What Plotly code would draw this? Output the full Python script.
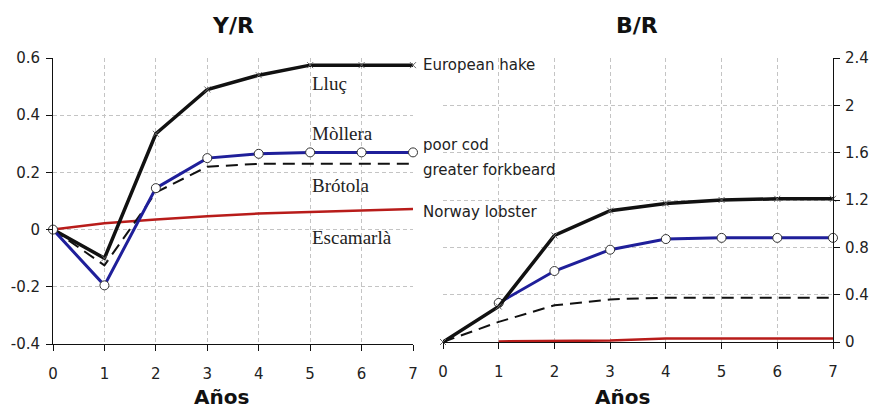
import plotly.graph_objects as go

# --- data ---
years = [0, 1, 2, 3, 4, 5, 6, 7]

# Y/R (yield per recruit)
yr_lluc = [0, -0.10, 0.335, 0.49, 0.54, 0.575, 0.575, 0.575]
yr_mollera = [0, -0.195, 0.145, 0.25, 0.265, 0.27, 0.27, 0.27]
yr_brotola = [0, -0.125, 0.13, 0.22, 0.23, 0.23, 0.23, 0.23]
yr_escamarla = [0, 0.022, 0.035, 0.047, 0.056, 0.062, 0.067, 0.072]

# B/R (biomass per recruit)
br_lluc = [0, 0.30, 0.90, 1.11, 1.17, 1.20, 1.21, 1.21]
br_mollera = [None, 0.33, 0.60, 0.78, 0.87, 0.88, 0.88, 0.88]
br_brotola = [0, 0.17, 0.31, 0.36, 0.375, 0.375, 0.375, 0.375]
br_escamarla = [None, 0.005, 0.01, 0.012, 0.03, 0.03, 0.03, 0.03]

yr_ticks = [-0.4, -0.2, 0, 0.2, 0.4, 0.6]
yr_ticktext = ["-0.4", "-0.2", "0", "0.2", "0.4", "0.6"]
br_ticks = [0, 0.4, 0.8, 1.2, 1.6, 2, 2.4]
br_ticktext = ["0", "0.4", "0.8", "1.2", "1.6", "2", "2.4"]

# species labels (Catalan inside the left plot, English between plots)
cat_names = ["Lluç", "Mòllera", "Brótola", "Escamarlà"]
cat_label_y = [0.51, 0.337, 0.154, -0.028]
eng_names = ["European hake", "poor cod", "greater forkbeard", "Norway lobster"]
eng_label_y = [0.575, 0.295, 0.207, 0.063]

W, H = 871, 409
SANS = "DejaVu Sans"
SERIF = "Liberation Serif"
BLACK = "#111111"
BLUE = "#1f1f9a"
RED = "#b81c1a"
GRID = "#c4c4c4"

fig = go.Figure()


def add_series(x, y, xa, ya, kind):
    if kind == "lluc":
        fig.add_trace(go.Scatter(
            x=x, y=y, xaxis=xa, yaxis=ya, mode="lines+markers",
            line={"color": BLACK, "width": 3.5},
            marker={"symbol": "x-thin", "size": 6, "line": {"color": "#666666", "width": 1}},
            cliponaxis=False,
        ))
    elif kind == "mollera":
        fig.add_trace(go.Scatter(
            x=x, y=y, xaxis=xa, yaxis=ya, mode="lines+markers",
            line={"color": BLUE, "width": 3},
            marker={"symbol": "circle", "size": 9, "color": "white",
                    "line": {"color": "#333333", "width": 1}},
            cliponaxis=False,
        ))
    elif kind == "brotola":
        fig.add_trace(go.Scatter(
            x=x, y=y, xaxis=xa, yaxis=ya, mode="lines",
            line={"color": BLACK, "width": 2, "dash": "12px,7px"},
        ))
    else:
        fig.add_trace(go.Scatter(
            x=x, y=y, xaxis=xa, yaxis=ya, mode="lines",
            line={"color": RED, "width": 2.5},
        ))


# left: Y/R
add_series(years, yr_escamarla, "x", "y", "escamarla")
add_series(years, yr_brotola, "x", "y", "brotola")
add_series(years, yr_lluc, "x", "y", "lluc")
add_series(years, yr_mollera, "x", "y", "mollera")

# right: B/R
add_series(years, br_escamarla, "x2", "y2", "escamarla")
add_series(years, br_brotola, "x2", "y2", "brotola")
add_series(years, br_mollera, "x2", "y2", "mollera")
add_series(years, br_lluc, "x2", "y2", "lluc")

tickfont = {"family": SANS, "size": 15, "color": "#222222"}
axis_common = dict(
    showgrid=True, gridcolor=GRID, griddash="4px,3px", gridwidth=1,
    zeroline=False, showline=True, linecolor=BLACK, linewidth=1,
    ticks="outside", ticklen=6, tickcolor=BLACK, tickfont=tickfont,
    automargin=False,
)

# pixel geometry of the two plot areas
lx0, lx1 = 53, 413
rx0, rx1 = 443, 833
ly0, ly1 = 344, 58
ry0, ry1 = 342, 58

fig.update_layout(
    width=W, height=H,
    margin={"l": 0, "r": 0, "t": 0, "b": 0, "autoexpand": False},
    paper_bgcolor="white", plot_bgcolor="white",
    showlegend=False,
    xaxis=dict(axis_common, domain=[lx0 / W, lx1 / W], range=[0, 7],
               tickvals=years, anchor="y", ticklabelstandoff=10),
    yaxis=dict(axis_common, domain=[(H - ly0) / H, (H - ly1) / H], range=[-0.4, 0.6],
               tickvals=yr_ticks, ticktext=yr_ticktext, anchor="x", ticklabelstandoff=3),
    xaxis2=dict(axis_common, domain=[rx0 / W, rx1 / W], range=[0, 7],
                tickvals=years, anchor="y2", ticklabelstandoff=10),
    yaxis2=dict(axis_common, domain=[(H - ry0) / H, (H - ry1) / H], range=[0, 2.4],
                tickvals=br_ticks, ticktext=br_ticktext, anchor="x2", side="right",
                ticklabelstandoff=2),
)

# plot titles and x-axis titles
for txt, cx, cy, size in [("Y/R", 233, 25, 22), ("B/R", 637, 25, 22),
                          ("Años", 221, 397, 20), ("Años", 622, 397, 20)]:
    fig.add_annotation(text=f"<b>{txt}</b>", xref="paper", yref="paper",
                       x=cx / W, y=1 - cy / H, showarrow=False,
                       xanchor="center", yanchor="middle",
                       font={"family": SANS, "size": size, "color": "#111111"})

for name, yv in zip(cat_names, cat_label_y):
    fig.add_annotation(text=name, xref="x", yref="y", x=5.0, y=yv, showarrow=False,
                       xanchor="left", yanchor="middle",
                       font={"family": SERIF, "size": 19, "color": "#222222"})

for name, yv in zip(eng_names, eng_label_y):
    fig.add_annotation(text=name, xref="paper", yref="y", x=421 / W, y=yv, showarrow=False,
                       xanchor="left", yanchor="middle",
                       font={"family": SANS, "size": 15, "color": "#222222"})

# the page's default body margin would push the 871x409 figure out of the window
fig.write_html("out.html", config={"displayModeBar": False},
               post_script="document.body.style.margin='0px';")
